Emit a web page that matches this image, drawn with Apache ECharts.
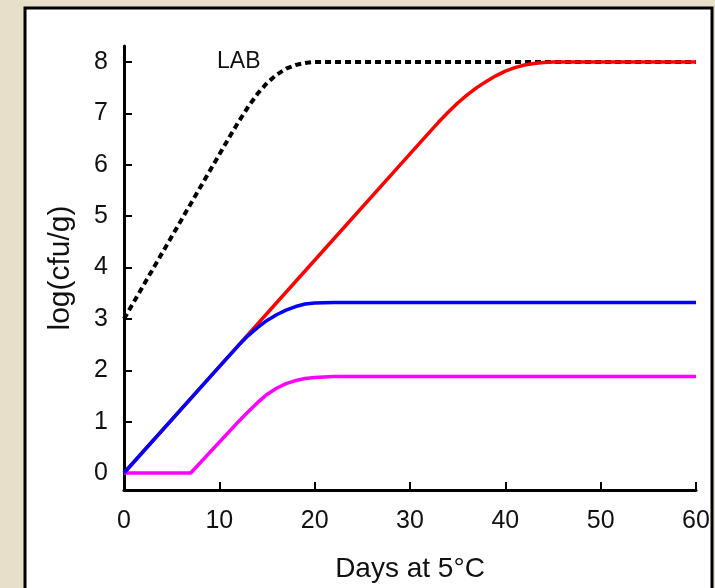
<!DOCTYPE html>
<html>
<head>
<meta charset="utf-8">
<script src="https://cdn.jsdelivr.net/npm/echarts@6/dist/echarts.min.js"></script>
<style>
html,body{margin:0;padding:0;background:#e7dfc9;}
#c{width:715px;height:588px;}
</style>
</head>
<body>
<div id="c"></div>
<script>
// Data (days at 5°C vs log(cfu/g))
const labDays = [0, 4, 8, 11, 12, 13, 14, 15, 16, 17, 18, 19, 20, 22, 60];
const labVals = [3.0, 4.28, 5.56, 6.52, 6.83, 7.12, 7.38, 7.59, 7.75, 7.87, 7.94, 7.98, 8.0, 8.0, 8.0];

const redDays = [0, 10, 20, 30, 33, 34, 35, 36, 37, 38, 39, 40, 41, 42, 43, 44, 45, 60];
const redVals = [0, 2.07, 4.14, 6.21, 6.83, 7.02, 7.2, 7.36, 7.5, 7.62, 7.73, 7.82, 7.89, 7.94, 7.97, 7.99, 8.0, 8.0];

const blueDays = [0, 10, 12, 13, 14, 15, 16, 17, 18, 19, 20, 22, 60];
const blueVals = [0, 2.07, 2.48, 2.67, 2.83, 2.97, 3.08, 3.17, 3.24, 3.29, 3.31, 3.32, 3.32];

const magDays = [0, 7, 12, 13, 14, 15, 16, 17, 18, 19, 20, 22, 60];
const magVals = [0, 0, 1.0, 1.19, 1.37, 1.53, 1.65, 1.74, 1.8, 1.84, 1.86, 1.88, 1.88];

const yTicks = [0, 1, 2, 3, 4, 5, 6, 7, 8];
const xName = 'Days at 5°C';
const yName = 'log(cfu/g)';
const labLabel = 'LAB';

function pairs(d, v) { return d.map((x, i) => [x, v[i]]); }

const chart = echarts.init(document.getElementById('c'));
const font = 'Liberation Sans, Arial, sans-serif';
chart.setOption({
  backgroundColor: '#e7dfc9',
  animation: false,
  graphic: [
    { type: 'rect', z: -10, shape: { x: 25, y: 8, width: 687, height: 600 },
      style: { fill: '#ffffff', stroke: '#000000', lineWidth: 3 } },
    { type: 'text', z: 10, left: 217, top: 50,
      style: { text: labLabel, font: '23px ' + font, fill: '#111' } }
  ],
  grid: { left: 124, right: 19, top: 46, bottom: 96, containLabel: false },
  xAxis: {
    type: 'value', min: 0, max: 60, interval: 10,
    name: xName, nameLocation: 'middle', nameGap: 65,
    nameTextStyle: { fontFamily: font, fontSize: 28, color: '#111' },
    axisLine: { onZero: false, lineStyle: { color: '#000', width: 3 } },
    axisTick: { inside: true, length: 8, lineStyle: { color: '#000', width: 2 } },
    axisLabel: { margin: 19, fontFamily: font, fontSize: 25, color: '#111' },
    splitLine: { show: false }
  },
  yAxis: {
    type: 'value', min: -0.33, max: 8.31,
    name: yName, nameLocation: 'middle', nameGap: 48, nameRotate: 90,
    nameTextStyle: { fontFamily: font, fontSize: 30, color: '#111' },
    axisLine: { lineStyle: { color: '#000', width: 3 } },
    axisTick: { inside: true, length: 8, customValues: yTicks, lineStyle: { color: '#000', width: 2 } },
    axisLabel: { margin: 16, fontFamily: font, fontSize: 25, color: '#111', customValues: yTicks },
    splitLine: { show: false }
  },
  series: [
    { name: 'LAB', type: 'line', data: pairs(labDays, labVals), showSymbol: false, symbol: 'none',
      lineStyle: { color: '#000', width: 4, type: [6, 4] } },
    { name: 'red', type: 'line', data: pairs(redDays, redVals), showSymbol: false, symbol: 'none',
      lineStyle: { color: '#ff0000', width: 3.5 } },
    { name: 'magenta', type: 'line', data: pairs(magDays, magVals), showSymbol: false, symbol: 'none',
      lineStyle: { color: '#ff00ff', width: 3.5 } },
    { name: 'blue', type: 'line', data: pairs(blueDays, blueVals), showSymbol: false, symbol: 'none',
      lineStyle: { color: '#0000ff', width: 3.5 } }
  ]
});
</script>
</body>
</html>
